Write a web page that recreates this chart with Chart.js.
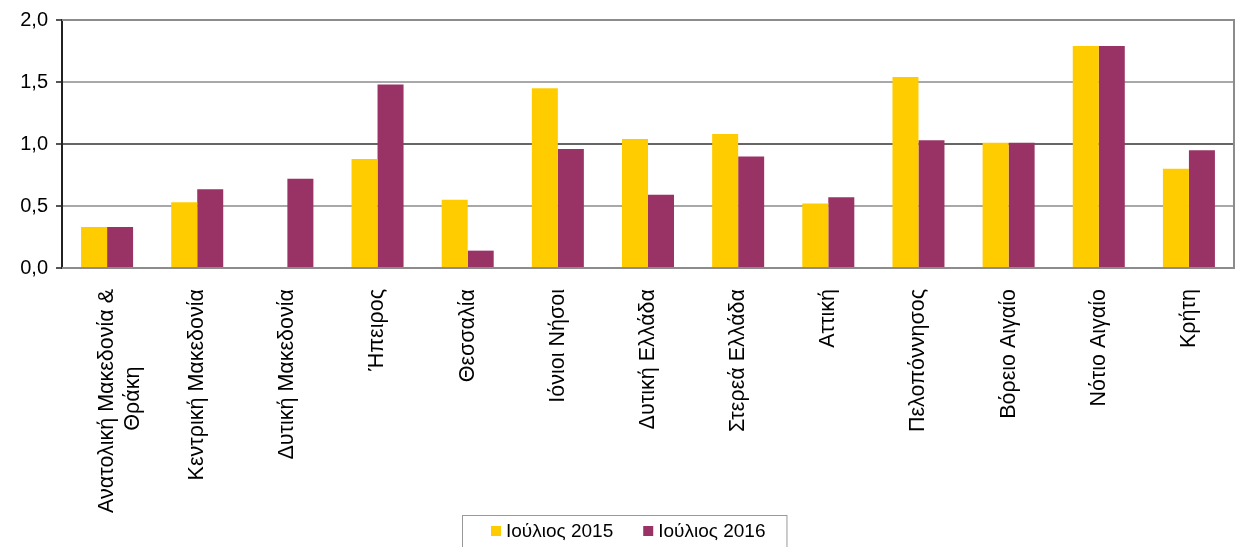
<!DOCTYPE html>
<html>
<head>
<meta charset="utf-8">
<script src="https://cdn.jsdelivr.net/npm/chart.js@4"></script>
<style>
  html, body { margin: 0; padding: 0; background: #fff; }
  #wrap { width: 1237px; height: 547px; }
</style>
</head>
<body>
<div id="wrap"><canvas id="barChart" width="1237" height="547"></canvas></div>
<script>
// regions (first label wraps onto two lines)
var regions = [
  ['Ανατολική Μακεδονία &', 'Θράκη'],
  'Κεντρική Μακεδονία',
  'Δυτική Μακεδονία',
  'Ήπειρος',
  'Θεσσαλία',
  'Ιόνιοι Νήσοι',
  'Δυτική Ελλάδα',
  'Στερεά Ελλάδα',
  'Αττική',
  'Πελοπόννησος',
  'Βόρειο Αιγαίο',
  'Νότιο Αιγαίο',
  'Κρήτη'
];
var july2015 = [0.33, 0.53, 0, 0.88, 0.55, 1.45, 1.04, 1.08, 0.52, 1.54, 1.01, 1.79, 0.80];
var july2016 = [0.33, 0.635, 0.72, 1.48, 0.14, 0.96, 0.59, 0.90, 0.57, 1.03, 1.01, 1.79, 0.95];
var yTicks = [0, 0.5, 1, 1.5, 2];

var font = 'Arial, "Liberation Sans", sans-serif';
var xFontSize = 21.5;

// multi-line labels: pad the short lines with spaces so they sit centred
var measureCtx = document.createElement('canvas').getContext('2d');
measureCtx.font = xFontSize + 'px ' + font;
function centreLines(label) {
  if (!Array.isArray(label)) return label;
  var widths = label.map(function(l) { return measureCtx.measureText(l).width; });
  var maxW = Math.max.apply(null, widths);
  var sp = measureCtx.measureText(' ').width;
  return label.map(function(l, i) {
    var n = Math.round((maxW - widths[i]) / 2 / sp);
    return l + new Array(n + 1).join(' ');
  });
}

// frame around the plot, plus a boxed legend underneath (Excel style)
var framePlugin = {
  id: 'frame',
  afterDraw: function(chart) {
    var c = chart.ctx, a = chart.chartArea;
    c.save();
    c.strokeStyle = '#8c8c8c';
    c.lineWidth = 2;
    c.beginPath();
    c.moveTo(a.left, a.top);
    c.lineTo(a.right, a.top);
    c.lineTo(a.right, a.bottom);
    c.lineTo(a.left, a.bottom);
    c.stroke();

    // legend
    c.font = '19px ' + font;
    c.textBaseline = 'middle';
    var x = 491, y = 531;
    var startX = x;
    chart.data.datasets.forEach(function(ds, i) {
      c.fillStyle = ds.backgroundColor;
      c.fillRect(x, y - 5, 10, 10);
      c.fillStyle = '#000';
      c.fillText(ds.label, x + 15, y + 1);
      x += 15 + c.measureText(ds.label).width;
      if (i < chart.data.datasets.length - 1) x += 30;
    });
    c.strokeStyle = '#999';
    c.lineWidth = 1;
    c.strokeRect(startX - 28.5, 515.5, (x - startX) + 50, 40);
    c.restore();
  }
};

new Chart(document.getElementById('barChart').getContext('2d'), {
  type: 'bar',
  data: {
    labels: regions,
    datasets: [
      { label: 'Ιούλιος 2015', data: july2015, backgroundColor: '#FFCC00' },
      { label: 'Ιούλιος 2016', data: july2016, backgroundColor: '#993366' }
    ]
  },
  options: {
    responsive: false,
    animation: false,
    layout: { padding: { top: 19, right: 3, left: 0, bottom: 32 } },
    datasets: { bar: { categoryPercentage: 0.577, barPercentage: 1 } },
    plugins: {
      tooltip: { enabled: false },
      legend: { display: false }
    },
    scales: {
      x: {
        grid: { display: false },
        border: { display: false },
        ticks: {
          color: '#000',
          font: { family: font, size: xFontSize },
          minRotation: 90,
          maxRotation: 90,
          autoSkip: false,
          padding: 13,
          callback: function(v, i) { return centreLines(regions[i]); }
        },
        afterFit: function(s) { s.height = 247; }
      },
      y: {
        min: 0,
        max: 2,
        afterBuildTicks: function(s) { s.ticks = yTicks.map(function(v) { return { value: v }; }); },
        grid: {
          color: function(ctx) { return ctx.tick && ctx.tick.value === 1 ? '#666' : '#a8a8a8'; },
          lineWidth: 2,
          tickLength: 6,
          tickColor: '#555'
        },
        border: { color: '#222', width: 2 },
        ticks: {
          color: '#000',
          font: { family: font, size: 20 },
          padding: 8,
          callback: function(v) { return v.toFixed(1).replace('.', ','); }
        },
        afterFit: function(s) { s.width = 62; }
      }
    }
  },
  plugins: [framePlugin]
});
</script>
</body>
</html>
